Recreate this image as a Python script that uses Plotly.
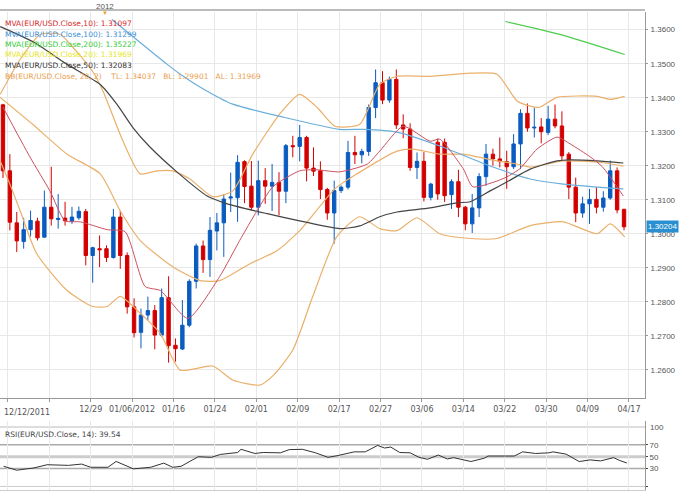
import plotly.graph_objects as go

# ---- candles (index 0..90) ----
opens  = [1.3379,1.3185,1.3032,1.2977,1.3012,1.3037,1.2990,1.3078,1.3042,1.3046,1.3037,1.3047,1.3065,1.2936,1.2956,1.2956,1.2930,1.3049,1.2936,1.2785,
          1.2710,1.2761,1.2774,1.2702,1.2812,1.2672,1.2661,1.2731,1.2860,1.2964,1.2924,1.3008,1.3032,1.3105,1.3106,1.3212,1.3140,1.3078,1.3156,1.3140,
          1.3151,1.3125,1.3259,1.3257,1.3283,1.3193,1.3185,1.3130,1.3061,1.3127,1.3137,1.3239,1.3232,1.3242,1.3371,1.3444,1.3393,1.3454,1.3320,1.3308,
          1.3195,1.3213,1.3107,1.3269,1.3269,1.3115,1.3153,1.3078,1.3029,1.3076,1.3168,1.3234,1.3220,1.3212,1.3197,1.3264,1.3354,1.3311,1.3314,1.3298,
          1.3337,1.3317,1.3234,1.3137,1.3061,1.3088,1.3101,1.3078,1.3105,1.3185,1.3072]
closes = [1.3185,1.3034,1.2979,1.3012,1.3039,1.2988,1.3078,1.3044,1.3045,1.3038,1.3049,1.3066,1.2936,1.2959,1.2953,1.2930,1.3049,1.2936,1.2785,1.2709,
          1.2761,1.2774,1.2702,1.2812,1.2671,1.2662,1.2731,1.2860,1.2964,1.2924,1.3010,1.3032,1.3102,1.3108,1.3210,1.3139,1.3078,1.3156,1.3140,1.3151,
          1.3125,1.3259,1.3256,1.3283,1.3193,1.3184,1.3130,1.3061,1.3127,1.3137,1.3239,1.3232,1.3242,1.3371,1.3444,1.3393,1.3454,1.3320,1.3308,1.3195,
          1.3213,1.3107,1.3146,1.3117,1.3112,1.3153,1.3078,1.3029,1.3076,1.3168,1.3234,1.3220,1.3212,1.3197,1.3264,1.3354,1.3311,1.3313,1.3300,1.3337,
          1.3317,1.3229,1.3137,1.3061,1.3088,1.3101,1.3078,1.3105,1.3185,1.3070,1.30204]
highs  = [1.3382,1.3234,1.3064,1.3047,1.3068,1.3047,1.3127,1.3197,1.3117,1.3094,1.3079,1.3080,1.3073,1.2962,1.2995,1.2966,1.3073,1.3068,1.2945,1.2810,
          1.2780,1.2815,1.2790,1.2839,1.2875,1.2692,1.2805,1.2866,1.2971,1.2980,1.3049,1.3061,1.3117,1.3180,1.3231,1.3216,1.3214,1.3215,1.3193,1.3205,
          1.3181,1.3264,1.3288,1.3320,1.3288,1.3254,1.3213,1.3135,1.3156,1.3142,1.3273,1.3288,1.3250,1.3380,1.3483,1.3478,1.3462,1.3483,1.3351,1.3325,
          1.3239,1.3240,1.3150,1.3280,1.3280,1.3160,1.3188,1.3082,1.3117,1.3178,1.3264,1.3250,1.3283,1.3244,1.3293,1.3366,1.3383,1.3371,1.3340,1.3376,
          1.3380,1.3360,1.3240,1.3165,1.3109,1.3132,1.3137,1.3125,1.3215,1.3195,1.3072]
lows   = [1.3164,1.3010,1.2946,1.2956,1.2992,1.2980,1.2988,1.3024,1.3015,1.3024,1.3029,1.3041,1.2907,1.2856,1.2902,1.2917,1.2927,1.2897,1.2765,1.2695,
          1.2663,1.2746,1.2660,1.2697,1.2621,1.2624,1.2658,1.2725,1.2839,1.2885,1.2873,1.2951,1.2932,1.3064,1.3035,1.3090,1.3070,1.3054,1.3088,1.3067,
          1.3054,1.3090,1.3225,1.3213,1.3154,1.3170,1.3102,1.3041,1.2971,1.3120,1.3130,1.3205,1.3207,1.3229,1.3340,1.3381,1.3385,1.3308,1.3281,1.3185,
          1.3161,1.3095,1.3098,1.3100,1.3093,1.3073,1.3049,1.3010,1.3002,1.3049,1.3141,1.3200,1.3195,1.3132,1.3190,1.3190,1.3300,1.3283,1.3266,1.3290,
          1.3310,1.3217,1.3102,1.3034,1.3047,1.3029,1.3060,1.3065,1.3100,1.3060,1.3010]

# ---- overlay lines (index, value) ----
ma10_x = [0,3.9,6.8,9,11.2,15.1,17.7,20.6,22.8,26.8,31.4,34.3,36.8,39.1,43,45.5,48.8,52.8,54.6,58,61.9,63.3,66.7,68.1,71.6,73,74.9,77.4,80.3,82.2,85.1,86.9,89.9]
ma10_y = [1.3372,1.3226,1.3126,1.3038,1.3035,1.3012,1.3006,1.2845,1.2833,1.2751,1.2874,1.2980,1.3067,1.3138,1.3185,1.3188,1.3182,1.3205,1.3243,1.3316,1.3272,1.3278,1.3191,1.3138,1.3155,1.3167,1.3191,1.3249,1.3284,1.3264,1.3226,1.3196,1.3111]
ma50_x = [-0.4,4.3,9.3,14.1,16.5,18.8,21.3,25.2,29.6,32.5,38.3,43,48.8,51.7,54.6,57.1,61.9,65.8,67.7,70.6,73,76.4,80.3,82.2,86.1,89.9]
ma50_y = [1.3609,1.3565,1.3498,1.3439,1.3381,1.3313,1.3255,1.3182,1.3111,1.3088,1.3059,1.3038,1.3015,1.3023,1.3050,1.3064,1.3076,1.3091,1.3094,1.3126,1.3152,1.3190,1.3214,1.3217,1.3214,1.3208]
ma100_x = [15.8,23.8,25.7,28.6,33.3,40.6,48.8,52.2,57.1,63.3,70.6,76.4,81.2,89.9]
ma100_y = [1.3630,1.3498,1.3469,1.3431,1.3381,1.3343,1.3307,1.3307,1.3299,1.3258,1.3199,1.3161,1.3146,1.3132]
ma200_x = [72.8,80.7,90.1]
ma200_y = [1.3624,1.3586,1.3527]
bbu_x = [-0.4,2.5,5.4,8.3,10.4,13,14.5,17.4,19.9,22.3,24.6,27.1,30.4,33.3,36.2,40.1,43,45.5,48.1,51.7,54.6,57.1,61.9,67.7,71.6,74.5,76.4,77.8,80.3,86.1,88,90.1]
bbu_y = [1.3410,1.3513,1.3586,1.3586,1.3542,1.3477,1.3419,1.3272,1.3176,1.3185,1.3185,1.3161,1.3109,1.3126,1.3234,1.3352,1.3410,1.3372,1.3316,1.3322,1.3439,1.3463,1.3463,1.3472,1.3469,1.3390,1.3375,1.3372,1.3401,1.3404,1.3395,1.3404]
bbm_x = [-0.4,4.3,9.3,14.1,17,19.9,24.6,28.6,31.4,35.8,39.7,43,48.1,51.3,57.1,59.4,63.3,66.7,71.6,74.5,76.4,81.2,86.1,89.9]
bbm_y = [1.3401,1.3322,1.3234,1.3176,1.3067,1.2980,1.2903,1.2862,1.2862,1.2912,1.2950,1.3009,1.3132,1.3176,1.3243,1.3249,1.3234,1.3234,1.3214,1.3205,1.3196,1.3214,1.3211,1.3199]
bbl_x = [-0.4,1,2.5,4.9,9.3,13,15.1,17,19.9,22.8,25.7,30.4,33.3,37.2,39.1,42,44.9,48.4,51.7,54.6,57.1,60,63.3,67.7,71.6,76.4,81.2,86.1,88,90.1]
bbl_y = [1.3214,1.3146,1.3067,1.2941,1.2833,1.2786,1.2786,1.2816,1.2766,1.2707,1.2599,1.2611,1.2570,1.2555,1.2582,1.2658,1.2816,1.2992,1.3050,1.3015,1.3009,1.3047,1.3000,1.2986,1.2986,1.3024,1.3035,1.3000,1.3029,1.2991]

rsi_x = [0.1,2,4.5,6.4,9.5,11.4,12.7,15.2,16.4,18.9,21.4,23.3,24.6,25.8,28.3,30.2,31.5,34,34.5,36.5,37.7,40.2,41.5,43.4,45.3,47.1,48.4,50.9,52.5,54.3,55.3,56.2,57.5,59,60.3,61.5,63.1,64.4,65.3,67.8,69.7,70.3,72.8,74.1,75.3,77.2,79.1,79.7,81.6,83.5,85.1,86.6,88.5,89.4,90.4]
rsi_y = [33.8,27.3,31.1,36.5,35.4,37.6,32.2,32.2,42,29.5,32.2,39.2,32.2,33.8,50,48.9,53.8,57,62.4,55.4,57,56.5,61.9,62.4,56.5,48.9,51.6,58.1,58.1,68.9,64.6,66.2,57,56.5,48.9,45.7,52.7,46.2,48.4,41.9,47.3,51.1,51.1,51.1,58.1,55.4,56.5,58.1,54.3,41.9,44.6,42.9,48.4,43.5,39.5]

tick_labels = ["", "", "12/29", "01/06/2012", "01/16", "01/24", "02/01", "02/09", "02/17",
               "02/27", "03/06", "03/14", "03/22", "03/30", "04/09", "04/17"]
price_ticks = [1.26,1.27,1.28,1.29,1.30,1.31,1.32,1.33,1.34,1.35,1.36]
rsi_ticks = [0, 30, 50, 70]
legend_lines = [("MVA(EUR/USD.Close,10): 1.31097", "#d62b2b"),
                ("MVA(EUR/USD.Close,100): 1.31299", "#3d8fd6"),
                ("MVA(EUR/USD.Close,200): 1.35227", "#33cc33"),
                ("MVA(EUR/USD.Close,20): 1.31969", "#e6e619"),
                ("MVA(EUR/USD.Close,50): 1.32083", "#333333"),
                ("BB(EUR/USD.Close, 20, 2)    TL: 1.34037   BL: 1.29901   AL: 1.31969", "#e8a050")]

idx = list(range(len(opens)))
fig = go.Figure()
fig.add_trace(go.Candlestick(x=idx, open=opens, high=highs, low=lows, close=closes,
    increasing=dict(line=dict(color="#0a5cc0", width=1), fillcolor="#0a5cc0"),
    decreasing=dict(line=dict(color="#d40000", width=1), fillcolor="#d40000"),
    whiskerwidth=0, showlegend=False, xaxis="x", yaxis="y"))
def line(xs, ys, c, w=1.2):
    fig.add_trace(go.Scatter(x=xs, y=ys, mode="lines", line=dict(color=c, width=w, shape="spline", smoothing=0.6),
                             showlegend=False, hoverinfo="skip", xaxis="x", yaxis="y"))
line(bbu_x, bbu_y, "#eab06a"); line(bbm_x, bbm_y, "#eab06a"); line(bbl_x, bbl_y, "#eab06a")
line(ma100_x, ma100_y, "#6aaedc"); line(ma200_x, ma200_y, "#4ccc4c")
line(ma50_x, ma50_y, "#444444"); line(ma10_x, ma10_y, "#cc5060", 1)
fig.add_trace(go.Scatter(x=rsi_x, y=rsi_y, mode="lines", line=dict(color="#333", width=1),
                         showlegend=False, xaxis="x2", yaxis="y2"))

H = 491
W = 680
xr = [-0.43, 93.04]
tickpos = [0.72 + 6*k for k in range(len(tick_labels))]
fig.update_layout(
    width=W, height=H, margin=dict(l=0, r=35, t=0, b=0),
    paper_bgcolor="white", plot_bgcolor="white",
    font=dict(family="Liberation Sans", size=8, color="#555"),
    xaxis=dict(domain=[0,1], range=xr, rangeslider=dict(visible=False), tickvals=tickpos, ticktext=tick_labels,
               showgrid=True, gridcolor="#e8e8e8", zeroline=False, showline=True, linecolor="#999", mirror=False,
               ticks="outside", ticklen=3, tickcolor="#999", tickfont=dict(family="DejaVu Sans", size=8, color="#555"), anchor="y"),
    yaxis=dict(domain=[1-398/H, 1-12/H], range=[1.2517, 1.3652], side="right", tickvals=price_ticks,
               ticktext=[f"{v:.4f}" for v in price_ticks], showgrid=True, gridcolor="#e8e8e8", zeroline=False,
               showline=True, linecolor="#999", ticks="outside", ticklen=2, tickcolor="#999",
               tickfont=dict(size=8, color="#555"), anchor="x", automargin=False, ticklabelstandoff=1),
    xaxis2=dict(domain=[0,1], range=xr, tickvals=tickpos, showticklabels=False, showgrid=True, gridcolor="#e8e8e8",
                zeroline=False, anchor="y2", showline=True, linecolor="#ccc"),
    yaxis2=dict(domain=[1-490/H, 1-421/H], range=[-6, 110], side="right", tickvals=rsi_ticks,
                showgrid=False, zeroline=False, showline=True, linecolor="#999", ticks="outside", ticklen=2,
                tickfont=dict(size=8, color="#555"), anchor="x2", automargin=False),
)
PW = W - 35
for lv, c, w in [(70, "#aaaaaa", 1.5), (30, "#aaaaaa", 1.5), (50, "#cccccc", 3), (0, "#cccccc", 1)]:
    fig.add_shape(type="line", xref="x2", yref="y2", x0=xr[0], x1=xr[1], y0=lv, y1=lv,
                  line=dict(color=c, width=w), layer="below")
# RSI 100 level, placed in page coordinates
y100 = 1 - 427/H
fig.add_shape(type="line", xref="paper", yref="paper", x0=0, x1=1, y0=y100, y1=y100,
              line=dict(color="#bbbbbb", width=1), layer="below")
fig.add_annotation(xref="paper", yref="paper", x=1.004, y=y100, text="100", showarrow=False,
                   xanchor="left", yanchor="middle", font=dict(size=8, color="#555"))
fig.add_shape(type="rect", xref="paper", yref="paper", x0=0, x1=1, y0=1-11/H, y1=1-9/H,
              fillcolor="#bbbbbb", line=dict(width=0))
fig.add_annotation(xref="paper", yref="paper", x=105/PW, y=1, text="2012", showarrow=False,
                   xanchor="center", yanchor="top", font=dict(size=8, color="#555"))
fig.add_annotation(xref="paper", yref="paper", x=105/PW, y=1-8/H, text="▼", showarrow=False,
                   xanchor="center", yanchor="top", font=dict(size=6, color="#f0a020"))
fig.add_annotation(xref="paper", yref="paper", x=2/PW, y=1-406/H, text="12/12/2011", showarrow=False,
                   xanchor="left", yanchor="top", font=dict(family="DejaVu Sans", size=8, color="#555"))
for k, (t, c) in enumerate(legend_lines):
    fig.add_annotation(xref="paper", yref="paper", x=3/PW, y=1-(17+k*10.5)/H, text=t, showarrow=False,
                       xanchor="left", yanchor="top", font=dict(family="DejaVu Sans", size=7.5, color=c))
fig.add_annotation(xref="paper", yref="paper", x=3/PW, y=1-428/H, text="RSI(EUR/USD.Close, 14): 39.54",
                   showarrow=False, xanchor="left", yanchor="top", font=dict(family="DejaVu Sans", size=7.5, color="#444"))
fig.add_annotation(xref="paper", yref="y", x=1.002, y=closes[-1], text=f"{closes[-1]:.5f}", showarrow=False,
                   xanchor="left", yanchor="middle", bgcolor="#2a8fd0", font=dict(size=8, color="white"), borderpad=1)
fig.write_html("out.html", config={"displayModeBar": False},
               post_script="document.body.style.margin='0';document.body.style.overflow='hidden';")
